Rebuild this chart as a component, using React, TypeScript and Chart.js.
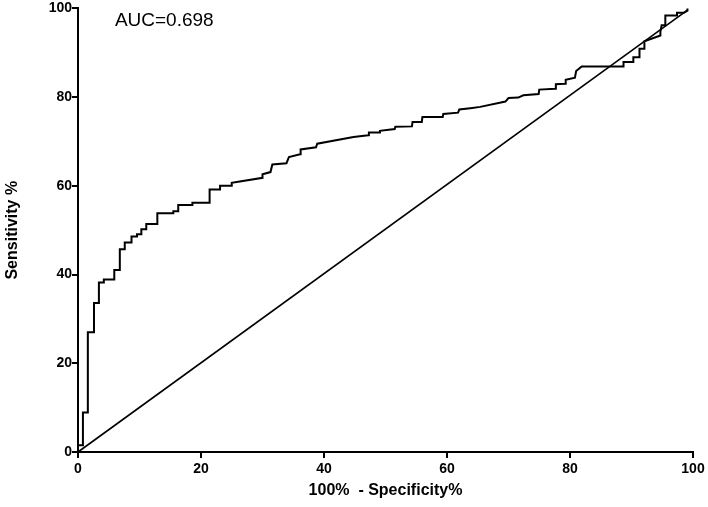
import React, { useEffect, useRef } from "react";
import { Chart, registerables } from "chart.js";

Chart.register(...registerables);

// ROC curve vertices: 100% - Specificity% (x) and Sensitivity % (y)
const fprValues = [
  0, 0, 0.8, 0.8, 1.6, 1.6, 2.6, 2.6, 3.4, 3.4, 4.2, 4.2, 5.9, 5.9, 6.8, 6.8, 7.6, 7.6,
  8.7, 8.7, 9.6, 9.6, 10.3, 10.3, 11.1, 11.1, 12.9, 12.9, 15.5, 15.5, 16.3, 16.3, 18.6, 18.6,
  21.4, 21.4, 23.1, 23.1, 25.0, 25.0, 26.3, 30.0, 30.0, 31.3, 31.6, 33.9, 34.3, 36.1, 36.2,
  38.7, 38.9, 44.8, 47.2, 47.3, 49.0, 49.1, 51.5, 51.6, 54.3, 54.4, 55.9, 56.0, 59.3, 59.4,
  61.8, 62.0, 63.8, 65.4, 69.5, 70.0, 71.6, 72.4, 74.9, 75.0, 77.6, 77.7, 79.2, 79.3, 80.8,
  81.0, 81.9, 88.7, 88.7, 90.3, 90.3, 91.3, 91.3, 92.1, 92.1, 94.7, 94.7, 94.9, 95.5, 95.5,
  97.4, 97.4, 98.5, 99.1, 99.1,
];
const tprValues = [
  0, 1.5, 1.5, 8.9, 8.9, 27.0, 27.0, 33.6, 33.6, 38.2, 38.2, 38.9, 38.9, 41.0, 41.0, 45.7, 45.7, 47.2,
  47.2, 48.6, 48.6, 49.1, 49.1, 50.2, 50.2, 51.4, 51.4, 53.8, 53.8, 54.3, 54.3, 55.7, 55.7, 56.2,
  56.2, 59.2, 59.2, 60.0, 60.0, 60.7, 61.0, 61.8, 62.6, 63.1, 64.8, 65.1, 66.5, 67.1, 68.2,
  68.7, 69.5, 71.0, 71.4, 72.0, 72.0, 72.4, 72.8, 73.3, 73.4, 74.4, 74.4, 75.5, 75.5, 76.2,
  76.5, 77.2, 77.5, 77.8, 79.0, 79.8, 79.9, 80.4, 80.7, 81.7, 81.9, 82.9, 83.0, 83.9, 84.4,
  85.9, 86.9, 86.9, 87.9, 87.9, 89.0, 89.0, 90.9, 90.9, 92.6, 93.9, 94.7, 96.2, 96.2, 98.4,
  98.4, 99.0, 99.0, 99.5, 100,
];

// Reference (chance) line
const diagonalX = [0, 99.1];
const diagonalY = [0, 99.6];

const xTicks = [0, 20, 40, 60, 80, 100];
const yTicks = [0, 20, 40, 60, 80, 100];

const aucLabel = "AUC=0.698";
const xTitle = "100%  - Specificity%";
const yTitle = "Sensitivity %";

const FONT = '"Liberation Sans", Arial, Helvetica, sans-serif';

export default function App() {
  const ref = useRef<HTMLCanvasElement | null>(null);

  useEffect(() => {
    if (!ref.current) return;
    const rocData = fprValues.map((x, i) => ({ x, y: tprValues[i] }));
    const diagData = diagonalX.map((x, i) => ({ x, y: diagonalY[i] }));

    const aucPlugin = {
      id: "aucText",
      afterDraw(chart: any) {
        const { ctx, scales } = chart;
        ctx.save();
        ctx.font = `19px ${FONT}`;
        ctx.fillStyle = "#000";
        ctx.textAlign = "left";
        ctx.textBaseline = "middle";
        ctx.fillText(aucLabel, scales.x.getPixelForValue(6), scales.y.getPixelForValue(97.3));
        ctx.restore();
      },
    };

    const chart = new Chart(ref.current, {
      type: "scatter",
      data: {
        datasets: [
          {
            data: rocData,
            showLine: true,
            borderColor: "#000",
            borderWidth: 2,
            pointRadius: 0,
            tension: 0,
            clip: false as any,
          },
          {
            data: diagData,
            showLine: true,
            borderColor: "#000",
            borderWidth: 1.6,
            pointRadius: 0,
            clip: false as any,
          },
        ],
      },
      options: {
        responsive: false,
        animation: false,
        layout: { padding: { top: 8, right: 15, left: 0, bottom: 0 } },
        plugins: { legend: { display: false }, tooltip: { enabled: false } },
        scales: {
          x: {
            type: "linear",
            min: 0,
            max: 100,
            afterFit: (s: any) => {
              s.height = 55;
            },
            afterBuildTicks: (s: any) => {
              s.ticks = xTicks.map((v) => ({ value: v }));
            },
            grid: {
              drawOnChartArea: false,
              drawTicks: true,
              tickLength: 6,
              color: "#000",
              lineWidth: 2,
            },
            border: { display: true, color: "#000", width: 2 },
            ticks: {
              color: "#000",
              padding: 3,
              font: { family: FONT, size: 14, weight: "bold" },
              maxRotation: 0,
            },
            title: {
              display: true,
              text: xTitle,
              color: "#000",
              font: { family: FONT, size: 16, weight: "bold" },
              padding: { top: 0, bottom: 7 },
            },
          },
          y: {
            type: "linear",
            min: 0,
            max: 100,
            afterFit: (s: any) => {
              s.width = 78;
            },
            afterBuildTicks: (s: any) => {
              s.ticks = yTicks.map((v) => ({ value: v }));
            },
            grid: {
              drawOnChartArea: false,
              drawTicks: true,
              tickLength: 6,
              color: "#000",
              lineWidth: 2,
            },
            border: { display: true, color: "#000", width: 2 },
            ticks: {
              color: "#000",
              padding: 0,
              font: { family: FONT, size: 14, weight: "bold" },
            },
            title: {
              display: true,
              text: yTitle,
              color: "#000",
              font: { family: FONT, size: 16, weight: "bold" },
              padding: { top: 3, bottom: 0 },
            },
          },
        },
      },
      plugins: [aucPlugin],
    });
    return () => chart.destroy();
  }, []);

  return (
    <div style={{ position: "fixed", left: 0, top: 0, width: 708, height: 507, background: "#fff" }}>
      <canvas ref={ref} width={708} height={507} />
    </div>
  );
}
